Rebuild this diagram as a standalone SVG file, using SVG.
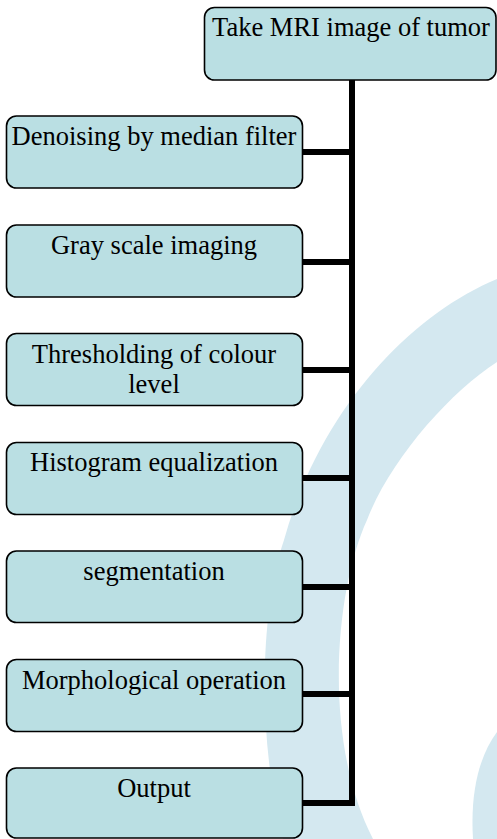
<svg xmlns="http://www.w3.org/2000/svg" width="497" height="839" viewBox="0 0 497 839">
<style>
.box{fill:#badfe3;stroke:#000;stroke-width:1.6}
.lbl{font-size:26.5px;fill:#000;text-anchor:middle}
.conn{fill:none;stroke:#000;stroke-width:6;stroke-linejoin:miter}
.wm{fill:#d4e8f0}
</style>
<rect width="497" height="839" fill="#fff"/>
<g id="watermark">
<path class="wm" d="M497,279 C410,315 320,410 284,540 C260,610 257,740 283,839 L373,839 C322,740 335,590 367,520 C390,460 450,392 497,362 Z"/>
<path class="wm" d="M497,732 C480,755 470,790 473,839 L497,839 Z"/>
</g>
<g id="connectors">
<path class="conn" d="M352,80 V806 M302,803 H352"/>
<path class="conn" d="M302,152 H352 M302,262 H352 M302,370 H352 M302,478 H352 M302,587 H352 M302,694 H352"/>
</g>
<g font-family="'Liberation Serif', 'Times New Roman', Times, serif">
<g id="n0"><rect class="box" x="204.5" y="7.5" width="291.5" height="72.5" rx="10"/><text class="lbl" x="351" y="36">Take MRI image of tumor</text></g>
<g id="n1"><rect class="box" x="6.5" y="116" width="296" height="72" rx="10"/><text class="lbl" x="154" y="145">Denoising by median filter</text></g>
<g id="n2"><rect class="box" x="6.5" y="225" width="296" height="72" rx="10"/><text class="lbl" x="154" y="254">Gray scale imaging</text></g>
<g id="n3"><rect class="box" x="6.5" y="333.5" width="296" height="72" rx="10"/><text class="lbl" x="154" y="363">Thresholding of colour</text><text class="lbl" x="154" y="393">level</text></g>
<g id="n4"><rect class="box" x="6.5" y="442.5" width="296" height="72" rx="10"/><text class="lbl" x="154" y="471">Histogram equalization</text></g>
<g id="n5"><rect class="box" x="6.5" y="551" width="296" height="71.5" rx="10"/><text class="lbl" x="154" y="580">segmentation</text></g>
<g id="n6"><rect class="box" x="6.5" y="659.5" width="296" height="72" rx="10"/><text class="lbl" x="154" y="689">Morphological operation</text></g>
<g id="n7"><rect class="box" x="6.5" y="768" width="296" height="70" rx="10"/><text class="lbl" x="154" y="797">Output</text></g>
</g>
</svg>
